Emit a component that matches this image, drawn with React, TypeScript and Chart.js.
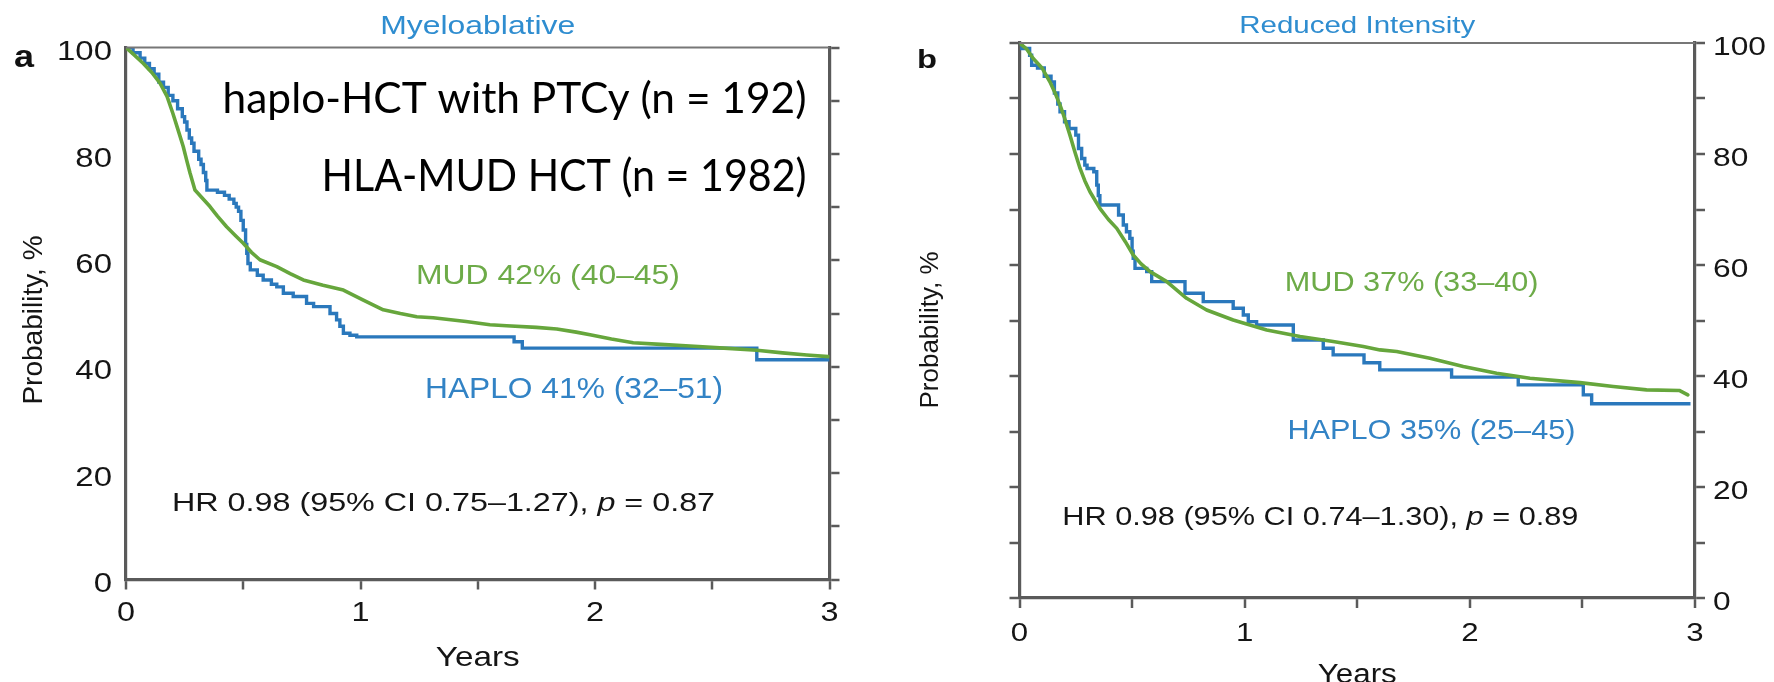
import { useEffect, useRef } from 'react';
import { Chart, registerables } from 'chart.js';

Chart.register(...registerables);

// ---------------- data ----------------
const yearTickValues = [0, 1, 2, 3];
const yearTickLabels = ['0', '1', '2', '3'];
const probTickValues = [0, 20, 40, 60, 80, 100];
const probTickLabels = ['0', '20', '40', '60', '80', '100'];

// Panel a – Myeloablative, HAPLO (Kaplan–Meier steps: time of drop, new value)
const maHaploYears = [0, 0.03, 0.06, 0.08, 0.10, 0.12, 0.14, 0.16, 0.18, 0.20, 0.22, 0.24, 0.25, 0.26, 0.27, 0.28, 0.29, 0.31, 0.32, 0.33, 0.34, 0.345, 0.39, 0.42, 0.44, 0.46, 0.47, 0.48, 0.49, 0.50, 0.51, 0.515, 0.52, 0.53, 0.56, 0.585, 0.62, 0.643, 0.671, 0.713, 0.77, 0.80, 0.87, 0.898, 0.912, 0.927, 0.955, 0.984, 1.655, 1.69, 2.69, 3.0];
const maHaploProb = [100, 99, 98, 97, 96, 95, 93.5, 92.5, 91, 90, 88.5, 87, 86, 84.5, 83, 82, 80.5, 79, 78, 76.5, 75, 73.2, 72.8, 72.2, 71.5, 70.7, 70, 69.2, 67.5, 65.7, 63, 61.3, 59.4, 58.2, 57.2, 56.3, 55.5, 55.0, 53.8, 53.2, 51.9, 51.3, 50.0, 48.8, 47.6, 46.3, 45.9, 45.6, 44.7, 43.5, 41.3, 41.3];
// Panel a – Myeloablative, MUD
const maMudYears = [0, 0.03, 0.074, 0.11, 0.145, 0.175, 0.2, 0.22, 0.244, 0.26, 0.273, 0.294, 0.325, 0.358, 0.39, 0.429, 0.465, 0.5, 0.535, 0.571, 0.643, 0.7, 0.756, 0.84, 0.927, 1.012, 1.097, 1.17, 1.24, 1.31, 1.45, 1.552, 1.623, 1.75, 1.837, 1.92, 1.979, 2.07, 2.163, 2.28, 2.405, 2.55, 2.69, 2.8, 2.903, 2.995];
const maMudProb = [100, 98.8, 97.0, 95.3, 93.3, 90.8, 87.6, 84.8, 81.4, 78.6, 76.4, 73.2, 71.7, 70.1, 68.3, 66.3, 64.7, 63.2, 61.5, 60.1, 58.8, 57.5, 56.3, 55.3, 54.4, 52.5, 50.7, 50.0, 49.4, 49.2, 48.5, 47.9, 47.7, 47.4, 47.1, 46.5, 46.0, 45.2, 44.5, 44.2, 43.9, 43.5, 43.1, 42.6, 42.2, 41.9];

// Panel b – Reduced Intensity, HAPLO
const riHaploYears = [0, 0.01, 0.045, 0.054, 0.08, 0.11, 0.14, 0.155, 0.17, 0.18, 0.2, 0.22, 0.25, 0.262, 0.276, 0.29, 0.3, 0.33, 0.343, 0.35, 0.357, 0.44, 0.461, 0.475, 0.49, 0.5, 0.505, 0.513, 0.565, 0.587, 0.735, 0.816, 0.949, 0.994, 1.016, 1.053, 1.216, 1.349, 1.393, 1.53, 1.6, 1.919, 2.215, 2.504, 2.541, 2.98];
const riHaploProb = [100, 99, 97.8, 96, 95.5, 94, 93, 91, 89, 87.6, 85.8, 84.6, 83.4, 81, 79.2, 78, 77.4, 76.8, 74.4, 72.5, 70.8, 69, 67.2, 66, 64.8, 62.5, 61.2, 59.4, 58.8, 57.0, 54.9, 53.4, 52.2, 51.0, 49.8, 49.2, 46.5, 45.0, 43.8, 42.4, 41.1, 39.8, 38.4, 36.6, 35.0, 35.0];
// Panel b – Reduced Intensity, MUD
const riMudYears = [0, 0.03, 0.061, 0.1, 0.135, 0.16, 0.18, 0.2, 0.224, 0.245, 0.269, 0.29, 0.313, 0.357, 0.395, 0.432, 0.47, 0.505, 0.54, 0.58, 0.654, 0.742, 0.831, 0.949, 1.098, 1.246, 1.393, 1.527, 1.601, 1.675, 1.823, 1.971, 2.119, 2.267, 2.489, 2.637, 2.785, 2.93, 2.968];
const riMudProb = [100, 99, 97.2, 95.5, 93.0, 90.8, 88.8, 86.5, 83.4, 80.5, 77.4, 75.2, 73.2, 70.2, 68.2, 66.6, 64.2, 61.8, 60.2, 58.8, 57.0, 54.0, 51.9, 50.1, 48.3, 47.1, 46.2, 45.3, 44.7, 44.4, 43.2, 41.7, 40.5, 39.6, 38.8, 38.1, 37.5, 37.4, 36.6];

// ---------------- styles ----------------
const SANS = '"Liberation Sans", Arial, Helvetica, sans-serif';
const CAL = 'Lato, "Open Sans", sans-serif';
const AXIS = '#5a5a5a';
const BLUE = '#2a78bc';
const GREEN = '#66a63c';
const BLUE_TXT = '#3283c5';
const GREEN_TXT = '#6dab48';
const TITLE_BLUE = '#2f8dd0';
const BLACK_TXT = '#151515';

type Seg = { t: string; italic?: boolean; bold?: boolean };
interface TextOpts {
  x: number; y: number; size: number; color: string;
  align?: 'left' | 'center' | 'right'; family?: string;
  width?: number; sx?: number; rotate?: boolean; bold?: boolean;
}

// draws text whose cap-centre sits at y; optionally stretched horizontally to a width
function drawText(ctx: CanvasRenderingContext2D, content: string | Seg[], o: TextOpts) {
  const segs: Seg[] = typeof content === 'string' ? [{ t: content, bold: o.bold }] : content;
  const fam = o.family ?? SANS;
  const fontOf = (s: Seg) => `${s.italic ? 'italic ' : ''}${s.bold ? 'bold ' : ''}${o.size}px ${fam}`;
  const widths = segs.map((s) => { ctx.font = fontOf(s); return ctx.measureText(s.t).width; });
  const total = widths.reduce((a, b) => a + b, 0);
  const k = o.width && !o.rotate ? o.width / total : (o.sx ?? 1);
  const align = o.align ?? 'left';
  let cx = align === 'left' ? 0 : align === 'center' ? -total / 2 : -total;
  ctx.save();
  ctx.translate(o.x, o.y);
  if (o.rotate) { ctx.rotate(-Math.PI / 2); ctx.scale(1, k); } else ctx.scale(k, 1);
  ctx.fillStyle = o.color;
  ctx.textAlign = 'left';
  ctx.textBaseline = 'alphabetic';
  const base = 0.358 * o.size;
  segs.forEach((s, i) => { ctx.font = fontOf(s); ctx.fillText(s.t, cx, base); cx += widths[i]; });
  ctx.restore();
}

interface Note { segs: Seg[]; x0: number; x1: number; y: number; size: number; color: string; family?: string }

interface PanelSpec {
  key: string;
  canvasLeft: number; canvasWidth: number;
  plotLeft: number; plotRight: number; plotTop: number; plotBottom: number;
  labelsRight: boolean;
  title: string; titleY: number; titleWidth: number; titleSize: number;
  letter: string; letterX: number; letterY: number; letterSize: number; letterWidth: number;
  yearsY: number; yearsWidth: number; yearsSize: number;
  probX: number; probY: number; probSize: number;
  yLabelGap: number; yLabelDy: number; yLabelSize: number; yLabelSx: number;
  xLabelDy: number; xLabelSize: number; xLabelSx: number;
  haploX: number[]; haploY: number[]; mudX: number[]; mudY: number[];
  notes: Note[];
}

const panelA: PanelSpec = {
  key: 'a', canvasLeft: 0, canvasWidth: 880,
  plotLeft: 126, plotRight: 829.5, plotTop: 47.5, plotBottom: 579.5,
  labelsRight: false,
  title: 'Myeloablative', titleY: 25, titleWidth: 195, titleSize: 25,
  letter: 'a', letterX: 14, letterY: 56, letterSize: 31, letterWidth: 20,
  yearsY: 656, yearsWidth: 84, yearsSize: 28,
  probX: 32, probY: 320, probSize: 28,
  yLabelGap: 14, yLabelDy: 3, yLabelSize: 27, yLabelSx: 1.22,
  xLabelDy: 31.5, xLabelSize: 27, xLabelSx: 1.2,
  haploX: maHaploYears, haploY: maHaploProb, mudX: maMudYears, mudY: maMudProb,
  notes: [
    { segs: [{ t: 'haplo-HCT with PTCy (n = 192)' }], x0: 0.412, x1: 2.902, y: 90.5, size: 43, color: '#000', family: CAL },
    { segs: [{ t: 'HLA-MUD HCT (n = 1982)' }], x0: 0.834, x1: 2.902, y: 76.0, size: 45, color: '#000', family: CAL },
    { segs: [{ t: 'MUD 42% (40\u201345)' }], x0: 1.237, x1: 2.362, y: 57.4, size: 28, color: GREEN_TXT },
    { segs: [{ t: 'HAPLO 41% (32\u201351)' }], x0: 1.275, x1: 2.546, y: 36.0, size: 29, color: BLUE_TXT },
    { segs: [{ t: 'HR 0.98 (95% CI 0.75\u20131.27), ' }, { t: 'p', italic: true }, { t: ' = 0.87' }], x0: 0.196, x1: 2.512, y: 14.6, size: 26.5, color: BLACK_TXT },
  ],
};

const panelB: PanelSpec = {
  key: 'b', canvasLeft: 880, canvasWidth: 894,
  plotLeft: 139.5, plotRight: 815, plotTop: 43, plotBottom: 598,
  labelsRight: true,
  title: 'Reduced Intensity', titleY: 24, titleWidth: 236, titleSize: 24,
  letter: 'b', letterX: 37, letterY: 59, letterSize: 26, letterWidth: 20,
  yearsY: 673, yearsWidth: 79, yearsSize: 27,
  probX: 49, probY: 330, probSize: 26,
  yLabelGap: 18, yLabelDy: 2.5, yLabelSize: 26, yLabelSx: 1.22,
  xLabelDy: 34, xLabelSize: 26, xLabelSx: 1.2,
  haploX: riHaploYears, haploY: riHaploProb, mudX: riMudYears, mudY: riMudProb,
  notes: [
    { segs: [{ t: 'MUD 37% (33\u201340)' }], x0: 1.178, x1: 2.305, y: 57.1, size: 28, color: GREEN_TXT },
    { segs: [{ t: 'HAPLO 35% (25\u201345)' }], x0: 1.19, x1: 2.469, y: 30.5, size: 28, color: BLUE_TXT },
    { segs: [{ t: 'HR 0.98 (95% CI 0.74\u20131.30), ' }, { t: 'p', italic: true }, { t: ' = 0.89' }], x0: 0.19, x1: 2.482, y: 14.8, size: 26, color: BLACK_TXT },
  ],
};

function textPlugin(p: PanelSpec) {
  return {
    id: 'panelText' + p.key,
    afterDraw(chart: any) {
      const ctx: CanvasRenderingContext2D = chart.ctx;
      const ca = chart.chartArea;
      const xs = chart.scales.x;
      const ys = chart.scales.y;
      // top frame line
      ctx.save();
      ctx.strokeStyle = '#777';
      ctx.lineWidth = 2;
      ctx.beginPath();
      ctx.moveTo(ca.left, ca.top);
      ctx.lineTo(ca.right, ca.top);
      ctx.stroke();
      ctx.restore();

      probTickValues.forEach((v, i) => {
        const py = ys.getPixelForValue(v) + p.yLabelDy;
        if (p.labelsRight) {
          drawText(ctx, probTickLabels[i], { x: ca.right + p.yLabelGap, y: py, align: 'left', size: p.yLabelSize, sx: p.yLabelSx, color: BLACK_TXT });
        } else {
          drawText(ctx, probTickLabels[i], { x: ca.left - p.yLabelGap, y: py, align: 'right', size: p.yLabelSize, sx: p.yLabelSx, color: BLACK_TXT });
        }
      });
      yearTickValues.forEach((v, i) => {
        drawText(ctx, yearTickLabels[i], { x: xs.getPixelForValue(v), y: ca.bottom + p.xLabelDy, align: 'center', size: p.xLabelSize, sx: p.xLabelSx, color: BLACK_TXT });
      });
      const mid = (ca.left + ca.right) / 2;
      drawText(ctx, p.title, { x: mid, y: p.titleY, align: 'center', size: p.titleSize, width: p.titleWidth, color: TITLE_BLUE });
      drawText(ctx, 'Years', { x: mid, y: p.yearsY, align: 'center', size: p.yearsSize, width: p.yearsWidth, color: BLACK_TXT });
      drawText(ctx, 'Probability, %', { x: p.probX, y: p.probY, align: 'center', size: p.probSize, rotate: true, sx: 1, color: BLACK_TXT });
      drawText(ctx, p.letter, { x: p.letterX, y: p.letterY, align: 'left', size: p.letterSize, width: p.letterWidth, bold: true, color: '#111' });

      p.notes.forEach((n) => {
        const x0 = xs.getPixelForValue(n.x0);
        const x1 = xs.getPixelForValue(n.x1);
        drawText(ctx, n.segs, { x: x0, y: ys.getPixelForValue(n.y), align: 'left', size: n.size, width: x1 - x0, color: n.color, family: n.family });
      });
    },
  };
}

function buildConfig(p: PanelSpec): any {
  const H = 682;
  const toPts = (xs: number[], ys: number[]) => xs.map((x, i) => ({ x, y: ys[i] }));
  const tickGrid = { display: true, drawOnChartArea: false, drawTicks: true, tickLength: 10, tickWidth: 2.5, tickColor: AXIS, color: AXIS, lineWidth: 2 };
  const leftWidth = p.plotLeft;
  const rightWidth = p.canvasWidth - p.plotRight;
  return {
    type: 'line',
    data: {
      datasets: [
        { label: 'MUD', data: toPts(p.mudX, p.mudY), borderColor: GREEN, borderWidth: 3.6, pointRadius: 0, tension: 0, fill: false, yAxisID: 'y', borderCapStyle: 'round', borderJoinStyle: 'round' },
        { label: 'HAPLO', data: toPts(p.haploX, p.haploY), borderColor: BLUE, borderWidth: 3.4, pointRadius: 0, stepped: 'before', fill: false, yAxisID: 'y' },
      ],
    },
    options: {
      animation: false,
      responsive: false,
      devicePixelRatio: 1,
      layout: { padding: { top: p.plotTop, left: 0, right: 0, bottom: 0 } },
      plugins: { legend: { display: false }, tooltip: { enabled: false }, title: { display: false } },
      scales: {
        x: {
          type: 'linear', min: 0, max: 3, position: 'bottom',
          ticks: { stepSize: 0.5, display: false },
          grid: { ...tickGrid },
          border: { display: true, color: AXIS, width: 3.2 },
          afterFit: (s: any) => { s.height = H - p.plotBottom; },
        },
        y: {
          type: 'linear', min: 0, max: 100, position: 'left',
          ticks: { stepSize: 10, display: false },
          grid: p.labelsRight ? { ...tickGrid } : { display: false, drawOnChartArea: false, drawTicks: false },
          border: { display: true, color: AXIS, width: 3.2 },
          afterFit: (s: any) => { s.width = leftWidth; },
        },
        y2: {
          type: 'linear', min: 0, max: 100, position: 'right',
          ticks: { stepSize: 10, display: false },
          grid: { ...tickGrid },
          border: { display: true, color: AXIS, width: 3.2 },
          afterFit: (s: any) => { s.width = rightWidth; },
        },
      },
    },
    plugins: [textPlugin(p)],
  };
}

function Panel({ spec }: { spec: PanelSpec }) {
  const ref = useRef<HTMLCanvasElement | null>(null);
  useEffect(() => {
    if (!ref.current) return;
    const chart = new Chart(ref.current, buildConfig(spec));
    return () => chart.destroy();
  }, [spec]);
  return (
    <canvas
      ref={ref}
      width={spec.canvasWidth}
      height={682}
      style={{ position: 'absolute', left: spec.canvasLeft, top: 0, width: spec.canvasWidth, height: 682 }}
    />
  );
}

export default function App() {
  return (
    <div style={{ position: 'absolute', left: 0, top: 0, width: 1774, height: 682, background: '#ffffff', overflow: 'hidden' }}>
      <Panel spec={panelA} />
      <Panel spec={panelB} />
    </div>
  );
}
